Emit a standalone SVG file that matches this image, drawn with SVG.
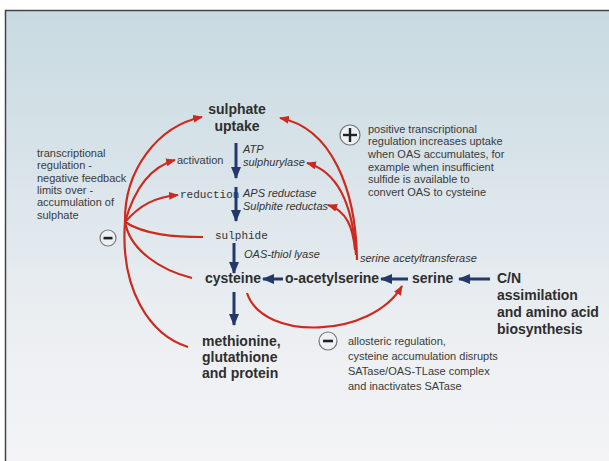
<svg xmlns="http://www.w3.org/2000/svg" width="609" height="461" viewBox="0 0 609 461">
<defs>
<linearGradient id="bg" x1="0" y1="0" x2="0" y2="1">
<stop offset="0" stop-color="#c8dae1"/>
<stop offset="0.35" stop-color="#d9e4ea"/>
<stop offset="0.7" stop-color="#eceff2"/>
<stop offset="1" stop-color="#f4f4f6"/>
</linearGradient>
<marker id="ra" viewBox="0 0 10 8" refX="9" refY="4" markerWidth="10" markerHeight="8" markerUnits="userSpaceOnUse" orient="auto">
<path d="M0,0 L10,4 L0,8 z" fill="#cc2a1f"/>
</marker>
<marker id="ba" viewBox="0 0 12 10" refX="11" refY="5" markerWidth="12" markerHeight="10" markerUnits="userSpaceOnUse" orient="auto">
<path d="M0,0 L12,5 L0,10 z" fill="#22396a"/>
</marker>
<style>
.b{font-family:"Liberation Sans",Arial,sans-serif;font-weight:bold;font-size:14px;fill:#2e2e2e}
.s{font-family:"Liberation Sans",Arial,sans-serif;font-size:11px;fill:#3a3a3a}
.i{font-family:"Liberation Sans",Arial,sans-serif;font-style:italic;font-size:11px;fill:#333}
.m{font-family:"Liberation Mono","DejaVu Sans Mono",monospace;font-size:11px;fill:#333}
.red{fill:none;stroke:#cc2a1f;stroke-width:2.2}
.blue{fill:none;stroke:#22396a;stroke-width:3}
.circ{fill:#eef1f3;stroke:#777;stroke-width:1.2}
</style>
</defs>
<rect x="0" y="0" width="609" height="461" fill="#ffffff"/>
<rect x="5.5" y="10.5" width="610" height="460" fill="url(#bg)" stroke="#444" stroke-width="1.5"/>

<g id="sulphate-uptake">
<text class="b" x="237" y="114" text-anchor="middle">sulphate</text>
<text class="b" x="237" y="131" text-anchor="middle">uptake</text>
</g>
<g id="activation"><text class="s" x="177" y="164">activation</text></g>
<g id="reduction"><text class="m" x="180" y="198">reduction</text></g>
<g id="sulphide"><text class="m" x="215" y="239">sulphide</text></g>
<g id="cysteine"><text class="b" x="205" y="283">cysteine</text></g>
<g id="o-acetylserine"><text class="b" x="285" y="283">o-acetylserine</text></g>
<g id="serine"><text class="b" x="412" y="283">serine</text></g>
<g id="cn">
<text class="b" x="497" y="283">C/N</text>
<text class="b" x="497" y="300">assimilation</text>
<text class="b" x="497" y="317">and amino acid</text>
<text class="b" x="497" y="334">biosynthesis</text>
</g>
<g id="methionine">
<text class="b" x="202" y="346">methionine,</text>
<text class="b" x="202" y="362">glutathione</text>
<text class="b" x="202" y="378">and protein</text>
</g>
<g id="enzymes">
<text class="i" x="243" y="153">ATP</text>
<text class="i" x="243" y="166">sulphurylase</text>
<text class="i" x="243" y="197">APS reductase</text>
<text class="i" x="243" y="210">Sulphite reductas</text>
<text class="i" x="244" y="258">OAS-thiol lyase</text>
<text class="i" x="360" y="262">serine acetyltransferase</text>
</g>
<g id="negative-feedback">
<circle class="circ" cx="108" cy="238" r="8"/>
<rect x="103.5" y="236.8" width="9" height="2.6" fill="#222"/>
<text class="s" x="37" y="157">transcriptional</text>
<text class="s" x="37" y="169">regulation -</text>
<text class="s" x="37" y="182">negative feedback</text>
<text class="s" x="37" y="194">limits over -</text>
<text class="s" x="37" y="206">accumulation of</text>
<text class="s" x="37" y="219">sulphate</text>
</g>
<g id="positive-regulation">
<circle class="circ" cx="350" cy="135" r="10"/>
<rect x="343" y="133.8" width="14" height="2.4" fill="#222"/>
<rect x="348.8" y="128" width="2.4" height="14" fill="#222"/>
<text class="s" x="368" y="133">positive transcriptional</text>
<text class="s" x="368" y="145">regulation increases uptake</text>
<text class="s" x="368" y="158">when OAS accumulates, for</text>
<text class="s" x="368" y="171">example when insufficient</text>
<text class="s" x="368" y="183">sulfide is available to</text>
<text class="s" x="368" y="196">convert OAS to cysteine</text>
</g>
<g id="allosteric-regulation">
<circle class="circ" cx="328" cy="341" r="9"/>
<rect x="323" y="339.7" width="10" height="2.6" fill="#222"/>
<text class="s" x="348" y="345">allosteric regulation,</text>
<text class="s" x="348" y="360">cysteine accumulation disrupts</text>
<text class="s" x="348" y="375">SATase/OAS-TLase complex</text>
<text class="s" x="348" y="390">and inactivates SATase</text>
</g>

<g id="connectors">
<line class="blue" x1="236" y1="143" x2="236" y2="178" marker-end="url(#ba)"/>
<line class="blue" x1="236" y1="187" x2="236" y2="221" marker-end="url(#ba)"/>
<line class="blue" x1="234" y1="243" x2="234" y2="273" marker-end="url(#ba)"/>
<line class="blue" x1="234" y1="292" x2="234" y2="325" marker-end="url(#ba)"/>
<line class="blue" x1="283" y1="279" x2="263" y2="279" marker-end="url(#ba)"/>
<line class="blue" x1="408" y1="279" x2="381" y2="279" marker-end="url(#ba)"/>
<line class="blue" x1="490" y1="279" x2="459" y2="279" marker-end="url(#ba)"/>

<path class="red" d="M125,222 C124,170 158,126 202,117" marker-end="url(#ra)"/>
<path class="red" d="M125,222 C134,190 150,167 175,160" marker-end="url(#ra)"/>
<path class="red" d="M125,222 C140,205 155,197 178,195" marker-end="url(#ra)"/>
<path class="red" d="M125,222 C145,235 175,237 203,237"/>
<path class="red" d="M125,222 C130,250 160,270 192,278"/>
<path class="red" d="M125,222 C120,290 150,335 188,347"/>

<path class="red" d="M357,260 C356,190 332,128 280,118" marker-end="url(#ra)"/>
<path class="red" d="M356,255 C353,208 340,172 307,163" marker-end="url(#ra)"/>
<path class="red" d="M355,250 C353,228 347,211 328,205" marker-end="url(#ra)"/>

<path class="red" d="M247,293 C263,342 372,338 402,286" marker-end="url(#ra)"/>
</g>
</svg>
